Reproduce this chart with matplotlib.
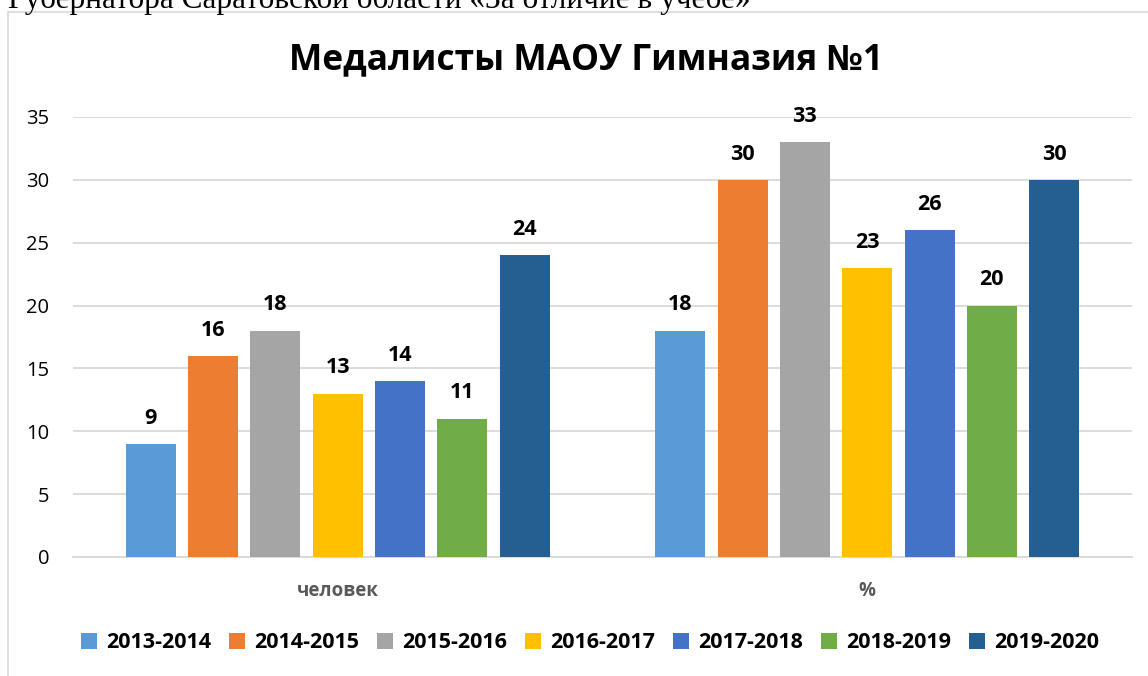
import numpy as np
import matplotlib.pyplot as plt
from matplotlib.patches import Rectangle

# chart data
categories = ['человек', '%']
seasons = ['2013-2014', '2014-2015', '2015-2016', '2016-2017',
           '2017-2018', '2018-2019', '2019-2020']
people = [9, 16, 18, 13, 14, 11, 24]
percent = [18, 30, 33, 23, 26, 20, 30]
colors = ['#5B9BD5', '#ED7D31', '#A5A5A5', '#FFC000',
          '#4472C4', '#70AD47', '#255E91']

plt.rcParams['font.family'] = ['Open Sans', 'DejaVu Sans']

W, H = 1148, 676
fig = plt.figure(figsize=(W / 100, H / 100), dpi=100)

# chart frame and cut-off document line above it
fig.patches.append(Rectangle((8 / W, -0.05), 1.1, 1 - 12 / H + 0.05,
                             transform=fig.transFigure, fill=False,
                             edgecolor='#D9D9D9', linewidth=1.2))
fig.text(8 / W, 1 - 8 / H, 'Губернатора Саратовской области «За отличие в учебе»',
         family='Liberation Serif', fontsize=22.5, va='baseline', ha='left')

ax = fig.add_axes([73 / W, (H - 557) / H, (1132 - 73) / W, (557 - 117) / H])

x = np.arange(len(categories))
step = 0.1177
width = 0.0943
for j, s in enumerate(seasons):
    vals = [people[j], percent[j]]
    pos = x + (j - 3) * step
    bars = ax.bar(pos, vals, width, color=colors[j], label=s, zorder=3)
    for b, v in zip(bars, vals):
        ax.annotate(str(v), (b.get_x() + b.get_width() / 2, v),
                    xytext=(0, 11), textcoords='offset points',
                    ha='center', va='bottom', fontsize=15.5, fontweight='bold')

ax.set_xlim(-0.5, 1.5)
ax.set_ylim(0, 35)
ax.set_yticks(range(0, 36, 5))
ax.yaxis.grid(True, color='#D9D9D9', linewidth=1.3, zorder=0)
ax.tick_params(axis='y', length=0, pad=17, labelsize=14.5)
ax.tick_params(axis='x', length=0, pad=17, labelsize=13.5, labelcolor='#595959')
ax.set_xticks(x)
ax.set_xticklabels(categories, fontweight='bold')
for sp in ['top', 'right', 'left']:
    ax.spines[sp].set_visible(False)
ax.spines['bottom'].set_color('#D9D9D9')
ax.spines['bottom'].set_linewidth(1.3)

fig.text(586 / W, 1 - 60 / H, 'Медалисты МАОУ Гимназия №1', ha='center',
         va='center', fontsize=25.5, fontweight='bold')

leg = fig.legend(loc='center', bbox_to_anchor=(590 / W, 1 - 643 / H), ncol=7,
                 frameon=False, handlelength=0.75, handleheight=0.75,
                 handletextpad=0.4, columnspacing=0.85,
                 prop={'weight': 'bold', 'size': 15.5})

fig.savefig('out.png', dpi=100)
